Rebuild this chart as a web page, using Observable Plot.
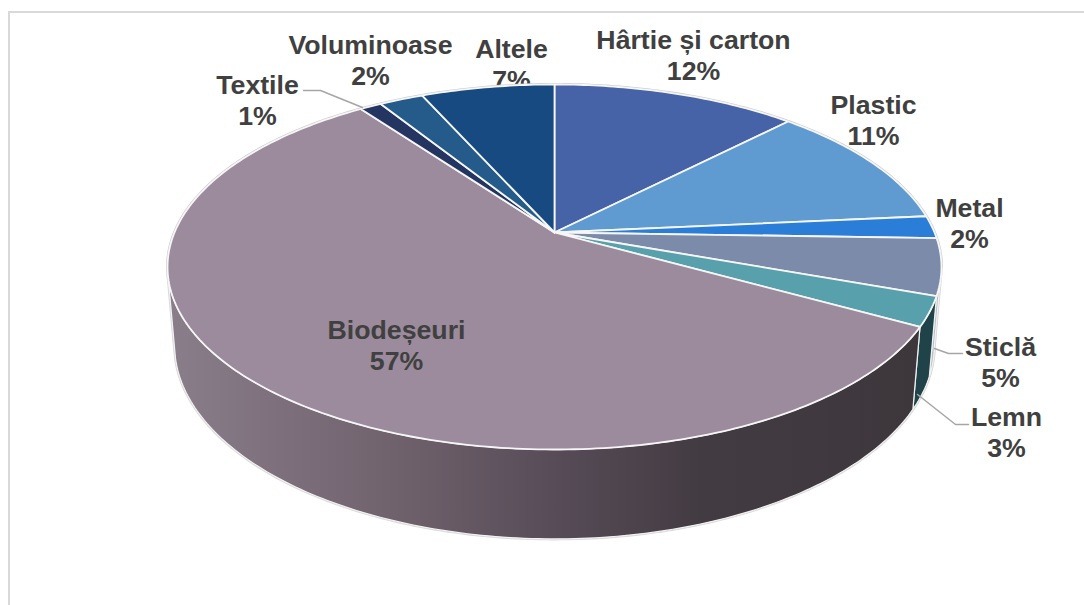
<!DOCTYPE html>
<html>
<head>
<meta charset="utf-8">
<script src="https://cdn.jsdelivr.net/npm/d3@7"></script>
<script src="https://cdn.jsdelivr.net/npm/@observablehq/plot@0.6"></script>
<style>
html,body{margin:0;padding:0;background:#fff;width:1084px;height:605px;overflow:hidden}
#frame{position:absolute;left:8px;top:11px;right:0;bottom:0;border-left:2px solid #d9d9d9;border-top:2px solid #d9d9d9}
#chart{position:absolute;left:0;top:0}
</style>
</head>
<body>
<div id="frame"></div>
<div id="chart"></div>
<script>
// Data
const names = ["Hârtie și carton","Plastic","Metal","Sticlă","Lemn","Biodeșeuri","Textile","Voluminoase","Altele"];
const shares = [12.3,11.2,2.0,5.0,2.6,56.9,1.1,2.2,6.7];
const colors = ["#4763a7","#5f9ad0","#2a7ed8","#7c8ba9","#58a0ac","#9b8b9c","#233560","#255b8b","#174a80"];
const labelPixels = [[693,54],[873,119],[969,222],[1000,361],[1006,431],[396,344],[257,99],[370,59],[511,63]];
const leaderPixels = [
  {name:"Textile",pts:[[303,90],[320,90],[362,107]]},
  {name:"Sticlă",pts:[[962,353],[948,353],[934,348]]},
  {name:"Lemn",pts:[[968,424],[955,424],[917,394]]}
];
const gradOffsets = [0,0.31,0.51,0.71,1];
const gradColors = ["#8a7e8b","#6f616c","#574c58","#433b42","#3d373c"];

// Perspective model of the disc
const hub = {x:554,y:232}, A=176, B=380, C=78, k=0.189, q=0.018;
const silhouetteRight = 28, silhouetteLeft = 71; // % of the turn where the wall edge is seen
function project(pct,z){
  const t=pct/100*2*Math.PI,u=Math.sin(t),v=Math.cos(t),w=1+k*v+q*z;
  return {X:B*u/w,Y:(A*v-C*z)/w};
}
const fromPx=([x,y])=>({X:x-hub.x,Y:hub.y-y});
const arc=(a,b,z)=>{const n=Math.max(2,Math.ceil(Math.abs(b-a)*4)),o=[];for(let i=0;i<=n;i++)o.push(project(a+(b-a)*i/n,z));return o;};

const cum=d3.cumsum(shares);
const spans=names.map((name,i)=>({name,i,a:i?cum[i-1]:0,b:cum[i]}));

const tops=spans.flatMap(s=>[{X:0,Y:0},...arc(s.a,s.b,0),{X:0,Y:0}].map(p=>({...p,name:s.name})));
const wallOf=(name,a,b,fill)=>{const pts=[...arc(a,b,0),...arc(b,a,1)];pts.push(pts[0]);return pts.map(p=>({...p,name,fill}));};
const walls=[
  ...wallOf("Sticlă",silhouetteRight,spans[4].a,"#b9c0c8"),
  ...wallOf("Lemn",spans[4].a,spans[4].b,"#1f4349"),
  ...wallOf("Biodeșeuri",spans[5].a,silhouetteLeft,"url(#wall)")
];
const rimTop=[...arc(silhouetteLeft,100,0),...arc(0,silhouetteRight,0)];
const rimBottom=[...arc(silhouetteRight,silhouetteRight,0),...arc(silhouetteRight,silhouetteLeft,1),...arc(silhouetteLeft,silhouetteLeft,0)];

const labels=names.map((n,i)=>({...fromPx(labelPixels[i]),name:n,text:`${n}\n${Math.round(shares[i])}%`}));
const leaders=leaderPixels.flatMap(l=>l.pts.map(p=>({...fromPx(p),name:l.name})));

const defsMark=()=>{
  const ns="http://www.w3.org/2000/svg";
  const d=document.createElementNS(ns,"defs"),g=document.createElementNS(ns,"linearGradient");
  g.setAttribute("id","wall");g.setAttribute("x1","0");g.setAttribute("x2","1");g.setAttribute("y1","0");g.setAttribute("y2","0");
  gradOffsets.forEach((o,i)=>{const s=document.createElementNS(ns,"stop");s.setAttribute("offset",o);s.setAttribute("stop-color",gradColors[i]);g.appendChild(s);});
  d.appendChild(g);return d;
};
const labelOpts={x:"X",y:"Y",text:"text",fontFamily:"Liberation Sans, Arial, sans-serif",fontWeight:700,fontSize:26.7,lineHeight:1.18,fill:"#404040",textAnchor:"middle"};

const chart=Plot.plot({
  width:1084,height:605,margin:0,
  style:{background:"transparent"},
  x:{axis:null,domain:[-554,530],range:[0,1084]},
  y:{axis:null,domain:[-373,232],range:[605,0]},
  color:{domain:names,range:colors},
  marks:[
    defsMark,
    Plot.text(labels.filter(d=>d.name!=="Biodeșeuri"),labelOpts),
    Plot.line(rimBottom,{x:"X",y:"Y",stroke:"#d8d8d8",strokeWidth:3}),
    Plot.line(walls,{x:"X",y:"Y",z:"name",fill:"fill",stroke:"#f2f2f2",strokeWidth:1.2}),
    Plot.line(rimTop,{x:"X",y:"Y",stroke:"#cccccc",strokeWidth:3}),
    Plot.line(tops,{x:"X",y:"Y",z:"name",fill:"name",stroke:"#f6f6f6",strokeWidth:1.8,strokeLinejoin:"round"}),
    Plot.line(leaders,{x:"X",y:"Y",z:"name",stroke:"#a6a6a6",strokeWidth:1.5}),
    Plot.text(labels.filter(d=>d.name==="Biodeșeuri"),labelOpts)
  ]
});
document.getElementById("chart").appendChild(chart);
</script>
</body>
</html>
